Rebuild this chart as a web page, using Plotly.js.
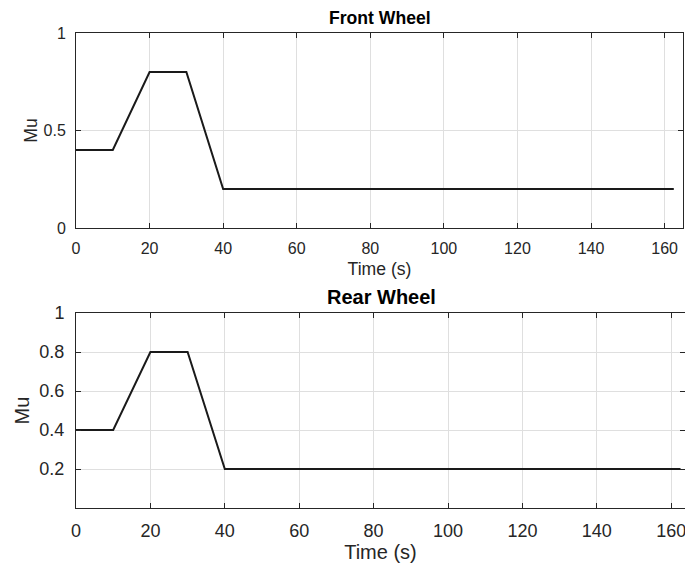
<!DOCTYPE html>
<html>
<head>
<meta charset="utf-8">
<script src="https://cdn.plot.ly/plotly-3.0.1.min.js"></script>
<style>html,body{margin:0;padding:0;background:#fff;}#chart{width:685px;height:572px;}</style>
</head>
<body>
<div id="chart"></div>
<script>
const timeS = [0, 10, 20, 30, 40, 162.5];
const frontMu = [0.4, 0.4, 0.8, 0.8, 0.2, 0.2];
const rearMu = [0.4, 0.4, 0.8, 0.8, 0.2, 0.2];
const xTicks = [0, 20, 40, 60, 80, 100, 120, 140, 160];
const frontYTicks = [0, 0.5, 1];
const rearYTicks = [0.2, 0.4, 0.6, 0.8, 1];
const titles = ['Front Wheel', 'Rear Wheel'];

const axColor = '#262626';
const gridColor = '#dfdfdf';
const font = 'Arial, "Liberation Sans", Helvetica, sans-serif';

function xax(domainX, range, tickSize, titleSize, labStand, standoff, anchor) {
  return {
    domain: domainX, anchor: anchor, range: range,
    tickvals: xTicks, ticktext: xTicks.map(String),
    showline: true, mirror: 'ticks', linecolor: axColor, linewidth: 1,
    ticks: 'inside', ticklen: 5, tickcolor: axColor,
    showgrid: true, gridcolor: gridColor, gridwidth: 1, zeroline: false,
    tickfont: {family: font, size: tickSize, color: axColor},
    ticklabelstandoff: labStand, ticklabeloverflow: 'allow',
    title: {text: 'Time (s)', font: {family: font, size: titleSize, color: axColor}, standoff: standoff},
    automargin: false
  };
}
function yax(domain, ticks, tickSize, titleSize, labStand, standoff, anchor) {
  return {
    domain: domain, anchor: anchor, range: [0, 1],
    tickvals: ticks, ticktext: ticks.map(String),
    showline: true, mirror: 'ticks', linecolor: axColor, linewidth: 1,
    ticks: 'inside', ticklen: 5, tickcolor: axColor,
    showgrid: true, gridcolor: gridColor, gridwidth: 1, zeroline: false,
    tickfont: {family: font, size: tickSize, color: axColor},
    ticklabelstandoff: labStand, ticklabeloverflow: 'allow',
    title: {text: 'Mu', font: {family: font, size: titleSize, color: axColor}, standoff: standoff},
    automargin: false
  };
}

const topDom = [1 - 228/572, 1 - 33/572];
const botDom = [1 - 508/572, 1 - 313/572];

const data = [
  {x: timeS, y: frontMu, type: 'scatter', mode: 'lines', xaxis: 'x', yaxis: 'y',
   line: {color: '#1a1a1a', width: 2}, showlegend: false, hoverinfo: 'skip'},
  {x: timeS, y: rearMu, type: 'scatter', mode: 'lines', xaxis: 'x2', yaxis: 'y2',
   line: {color: '#1a1a1a', width: 2}, showlegend: false, hoverinfo: 'skip'}
];

const layout = {
  width: 685, height: 572,
  margin: {l: 0, r: 0, t: 0, b: 0},
  paper_bgcolor: '#ffffff', plot_bgcolor: '#ffffff',
  showlegend: false,
  xaxis: xax([76/685, 683/685], [0, 165], 16, 17.6, 6, 6, 'y'),
  yaxis: yax(topDom, frontYTicks, 16, 17.6, 6, 1, 'x'),
  xaxis2: xax([76/685, 1], [0, 163.7], 18, 20, 6, 5, 'y2'),
  yaxis2: yax(botDom, rearYTicks, 18, 20, 7, 4, 'x2'),
  annotations: [
    {text: '<b>' + titles[0] + '</b>', xref: 'paper', yref: 'paper', x: 380.5/685, y: 1 - 18.5/572,
     showarrow: false, xanchor: 'center', yanchor: 'middle', font: {family: font, size: 17.6, color: '#000'}},
    {text: '<b>' + titles[1] + '</b>', xref: 'paper', yref: 'paper', x: 381/685, y: 1 - 297/572,
     showarrow: false, xanchor: 'center', yanchor: 'middle', font: {family: font, size: 20, color: '#000'}}
  ]
};

Plotly.newPlot('chart', data, layout, {staticPlot: true, displayModeBar: false});
</script>
</body>
</html>
